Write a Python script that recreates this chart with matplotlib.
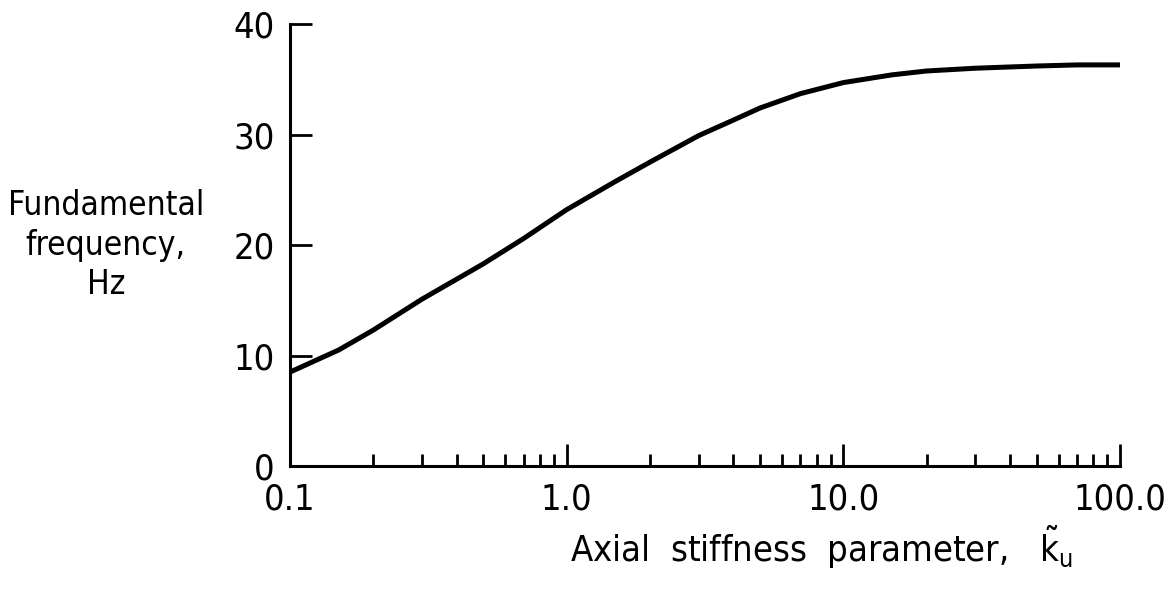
import numpy as np
import matplotlib
matplotlib.use('Agg')
import matplotlib.pyplot as plt
from matplotlib.ticker import FixedLocator, LogLocator, NullFormatter

# 字体: 窄体
plt.rcParams['font.family'] = ['DejaVu Sans']
plt.rcParams['font.stretch'] = 'condensed'
plt.rcParams['mathtext.fontset'] = 'dejavusans'

# 数据
k_u = [0.1, 0.15, 0.2, 0.3, 0.5, 0.7, 1.0, 1.5, 2.0, 3.0, 4.0, 5.0, 7.0, 10.0, 15.0, 20.0, 30.0, 50.0, 70.0, 100.0]
freq = [8.5, 10.5, 12.3, 15.1, 18.3, 20.6, 23.2, 25.75, 27.5, 29.9, 31.3, 32.4, 33.7, 34.7, 35.4, 35.75, 36.0, 36.2, 36.3, 36.3]

x_ticks = [0.1, 1.0, 10.0, 100.0]
x_labels = ['0.1', '1.0', '10.0', '100.0']
y_ticks = [0, 10, 20, 30, 40]

fig = plt.figure(figsize=(11.67, 5.96), dpi=100)
ax = fig.add_axes([0.2485, 0.2181, 0.7112, 0.7416])

ax.plot(k_u, freq, color='black', linewidth=3.6, solid_capstyle='round', solid_joinstyle='round')

ax.set_xscale('log')
ax.set_xlim(0.1, 100)
ax.set_ylim(0, 40)

ax.spines['top'].set_visible(False)
ax.spines['right'].set_visible(False)
ax.spines['left'].set_linewidth(2.2)
ax.spines['bottom'].set_linewidth(2.2)

ax.xaxis.set_major_locator(FixedLocator(x_ticks))
ax.set_xticklabels(x_labels)
ax.xaxis.set_minor_locator(LogLocator(base=10, subs=np.arange(2, 10)))
ax.xaxis.set_minor_formatter(NullFormatter())
ax.set_yticks(y_ticks)

ax.tick_params(axis='x', which='major', direction='in', length=16, width=2, labelsize=26, pad=12)
ax.tick_params(axis='x', which='minor', direction='in', length=8.5, width=2)
ax.tick_params(axis='y', which='major', direction='in', length=16, width=2, labelsize=26, pad=11)

ax.set_xlabel(r'Axial  stiffness  parameter,   $\tilde{\mathrm{k}}_{\mathrm{u}}$', fontsize=26)
ax.xaxis.set_label_coords(0.64, -0.13)
ax.set_ylabel('Fundamental\nfrequency,\nHz', fontsize=24, rotation=0,
              ha='center', va='center', linespacing=1.25)
ax.yaxis.set_label_coords(-0.222, 0.5)

fig.savefig('out.png', dpi=100)
